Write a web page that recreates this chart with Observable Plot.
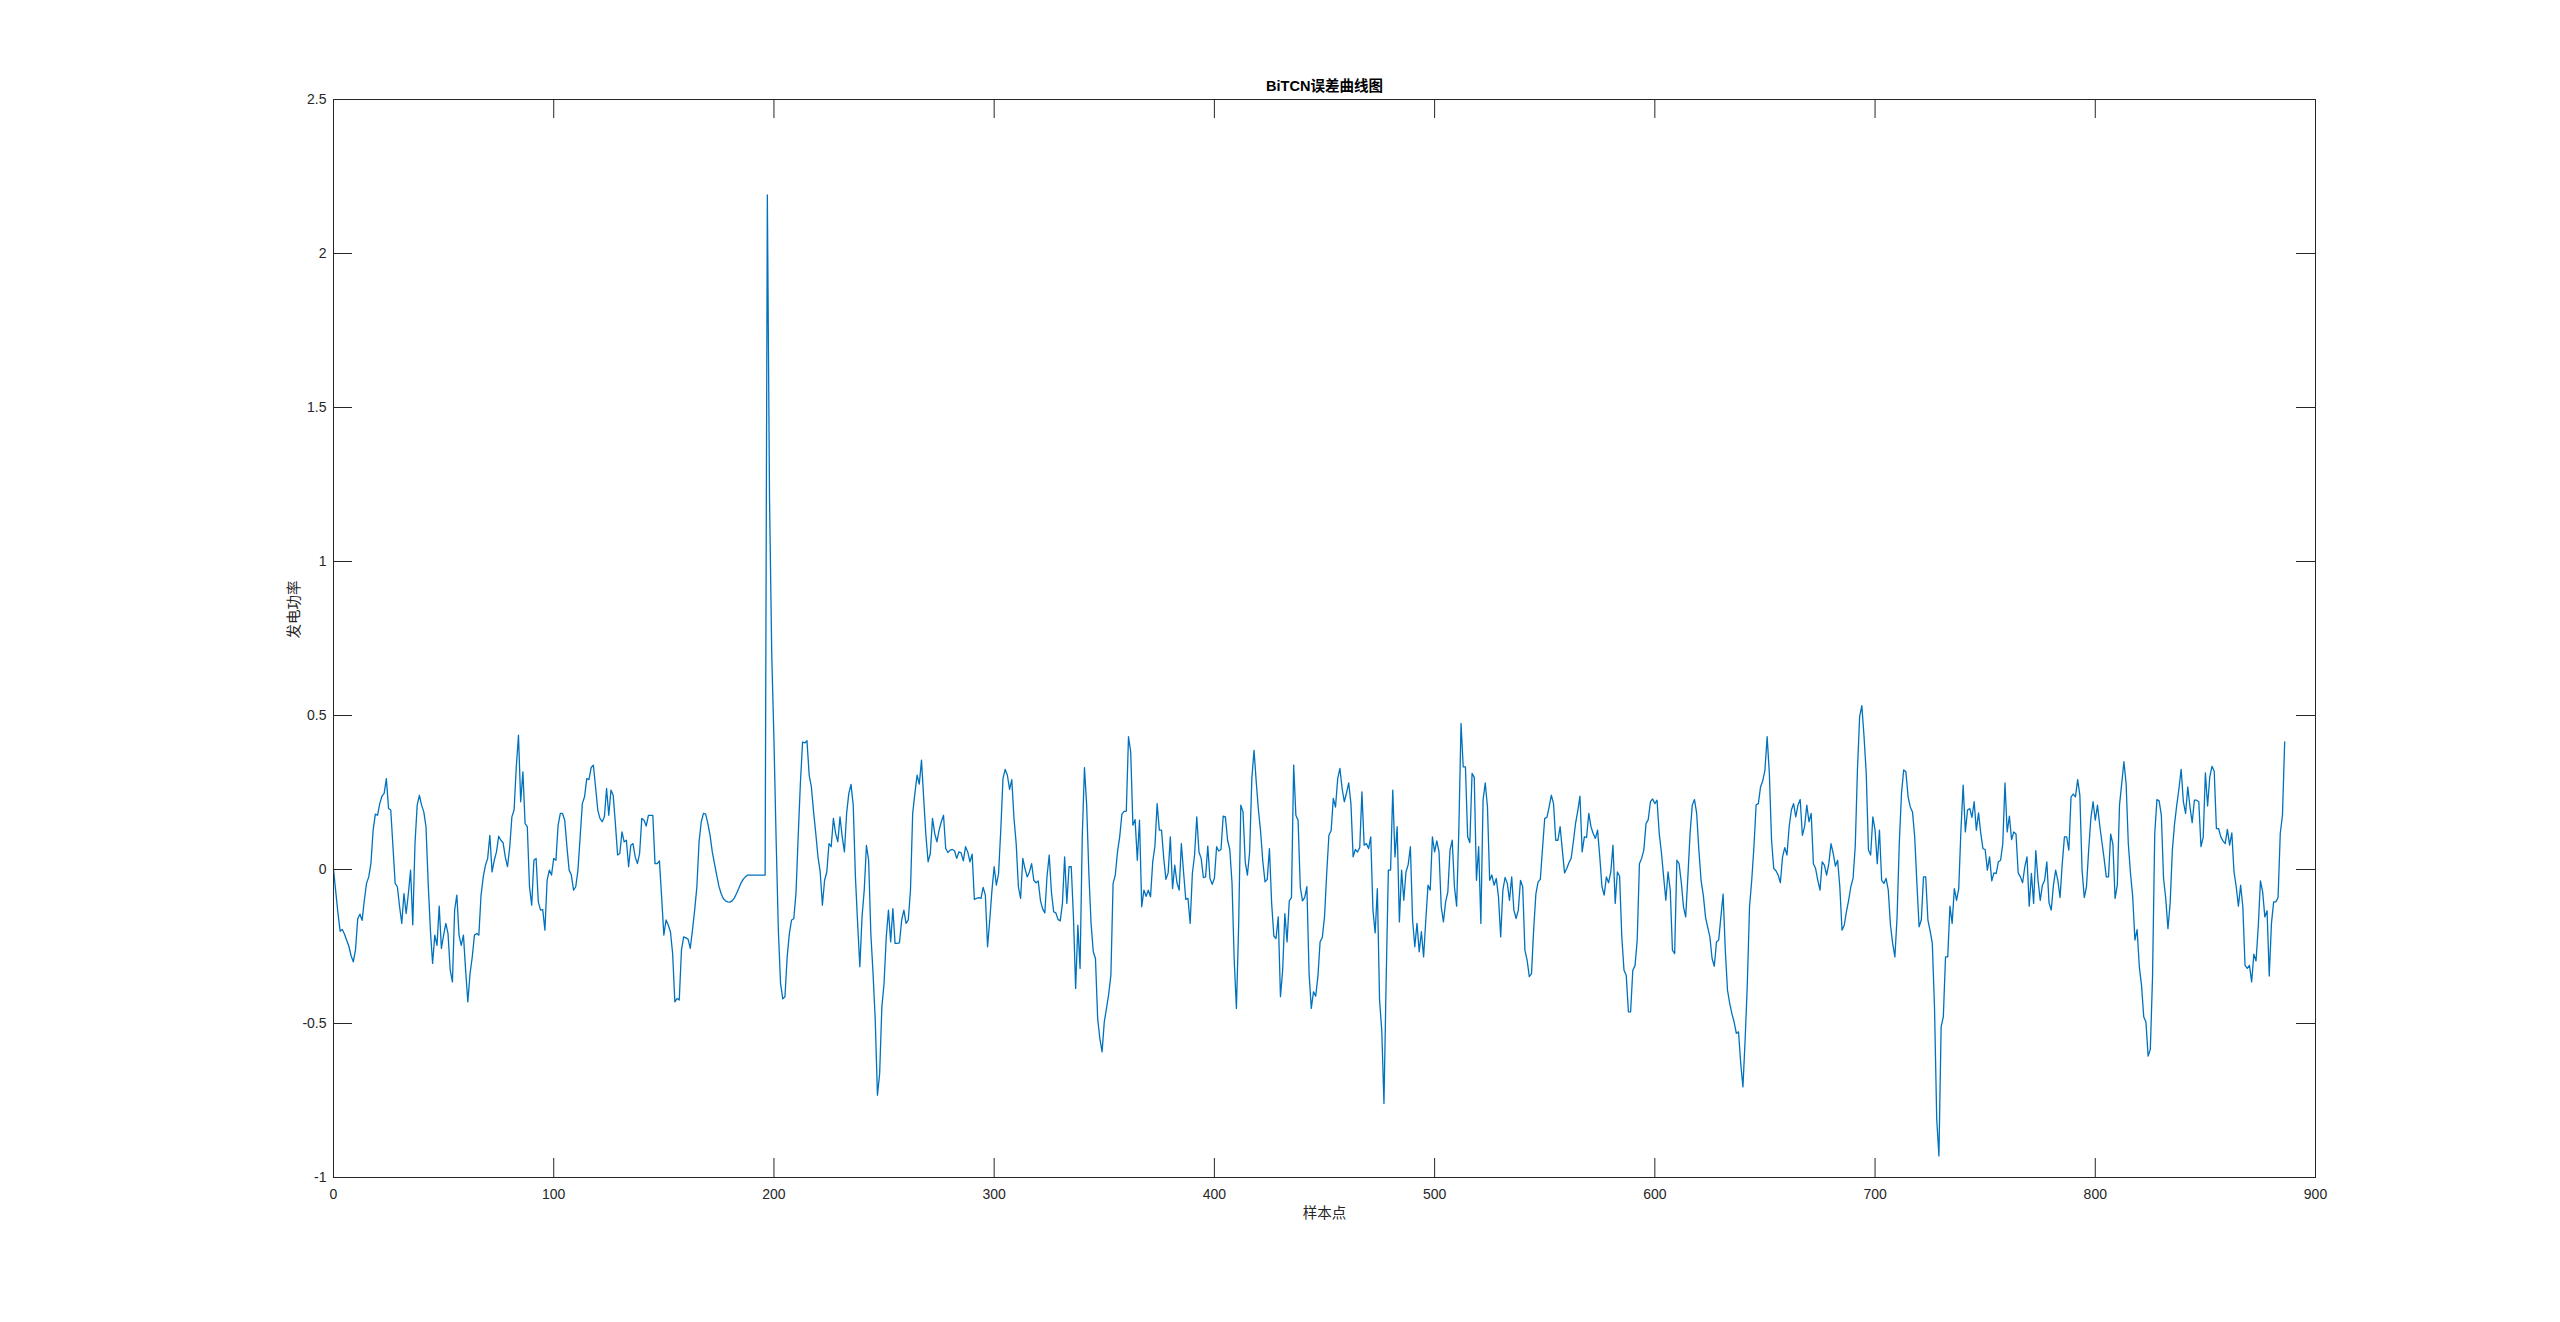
<!DOCTYPE html>
<html>
<head>
<meta charset="utf-8">
<script src="https://cdn.jsdelivr.net/npm/d3@7"></script>
<script src="https://cdn.jsdelivr.net/npm/@observablehq/plot@0.6"></script>
<style>
html, body { margin: 0; padding: 0; background: #ffffff; }
#chart svg { display: block; }
</style>
</head>
<body>
<div id="chart"></div>
<script>
// ---- data ----
const titleText = "BiTCN误差曲线图";
const xLabel = "样本点";
const yLabel = "发电功率";
const xTicks = [0, 100, 200, 300, 400, 500, 600, 700, 800, 900];
const yTicks = [-1, -0.5, 0, 0.5, 1, 1.5, 2, 2.5];
const errorValues = [
  0.0,-0.07,-0.14,-0.20,-0.195,-0.21,-0.23,-0.25,-0.28,-0.30,
  -0.26,-0.16,-0.145,-0.165,-0.10,-0.045,-0.024,0.02,0.128,0.18,
  0.176,0.214,0.238,0.247,0.295,0.198,0.193,0.074,-0.045,-0.056,
  -0.12,-0.175,-0.078,-0.143,-0.078,-0.002,-0.18,0.084,0.209,0.241,
  0.209,0.187,0.139,-0.045,-0.197,-0.305,-0.213,-0.246,-0.119,-0.256,
  -0.213,-0.175,-0.208,-0.327,-0.365,-0.132,-0.083,-0.213,-0.246,-0.213,
  -0.327,-0.43,-0.338,-0.284,-0.213,-0.208,-0.213,-0.083,-0.024,0.014,
  0.036,0.111,-0.008,0.03,0.057,0.108,0.095,0.087,0.041,0.009,
  0.07,0.171,0.193,0.333,0.436,0.22,0.317,0.149,0.139,-0.056,
  -0.116,0.03,0.036,-0.105,-0.132,-0.13,-0.197,-0.035,-0.002,-0.018,
  0.036,0.03,0.144,0.182,0.182,0.16,0.074,-0.002,-0.018,-0.067,
  -0.056,-0.002,0.106,0.214,0.236,0.295,0.292,0.331,0.339,0.268,
  0.193,0.166,0.155,0.171,0.263,0.176,0.258,0.241,0.149,0.047,
  0.052,0.122,0.09,0.095,0.009,0.079,0.084,0.041,0.019,0.052,
  0.166,0.16,0.141,0.176,0.176,0.176,0.019,0.019,0.028,-0.089,
  -0.213,-0.164,-0.18,-0.202,-0.273,-0.43,-0.419,-0.424,-0.262,-0.219,
  -0.222,-0.226,-0.256,-0.197,-0.132,-0.056,0.09,0.155,0.182,0.18,
  0.149,0.111,0.057,0.019,-0.018,-0.054,-0.078,-0.094,-0.102,-0.105,
  -0.106,-0.102,-0.093,-0.078,-0.062,-0.045,-0.032,-0.024,-0.018,-0.018,
  -0.018,-0.018,-0.018,-0.018,-0.018,-0.018,-0.018,2.19,1.2,0.7,
  0.42,0.095,-0.197,-0.37,-0.42,-0.413,-0.284,-0.208,-0.164,-0.16,
  -0.078,0.106,0.279,0.414,0.411,0.418,0.306,0.268,0.187,0.117,
  0.041,-0.008,-0.116,-0.035,-0.008,0.084,0.074,0.166,0.117,0.09,
  0.171,0.106,0.057,0.182,0.247,0.276,0.209,-0.024,-0.175,-0.316,
  -0.154,-0.067,0.078,0.03,-0.208,-0.338,-0.489,-0.733,-0.662,-0.446,
  -0.37,-0.219,-0.132,-0.235,-0.127,-0.24,-0.24,-0.238,-0.164,-0.132,
  -0.175,-0.164,-0.067,0.182,0.247,0.306,0.277,0.355,0.231,0.111,
  0.025,0.052,0.166,0.117,0.09,0.128,0.155,0.176,0.068,0.055,
  0.063,0.065,0.061,0.036,0.057,0.054,0.028,0.074,0.057,0.025,
  0.05,-0.097,-0.094,-0.091,-0.094,-0.058,-0.083,-0.251,-0.164,-0.067,
  0.009,-0.051,-0.013,0.128,0.295,0.325,0.306,0.26,0.292,0.166,
  0.084,-0.056,-0.094,0.036,0.003,-0.024,-0.008,0.019,-0.035,-0.043,
  -0.037,-0.1,-0.128,-0.141,-0.022,0.047,-0.073,-0.137,-0.141,-0.162,
  -0.167,-0.11,0.041,-0.11,0.009,0.009,-0.154,-0.386,-0.181,-0.321,
  0.106,0.331,0.209,-0.013,-0.175,-0.267,-0.289,-0.484,-0.549,-0.592,
  -0.495,-0.451,-0.405,-0.343,-0.045,-0.018,0.057,0.106,0.18,0.189,
  0.189,0.431,0.382,0.144,0.162,0.03,0.16,-0.121,-0.067,-0.087,
  -0.067,-0.089,0.025,0.076,0.214,0.128,0.128,0.036,-0.032,-0.011,
  0.106,-0.062,0.014,-0.043,-0.067,0.084,-0.008,-0.097,-0.094,-0.175,
  -0.013,0.047,0.171,0.057,0.036,-0.026,-0.024,0.076,-0.029,-0.048,
  -0.029,0.074,0.06,0.065,0.173,0.171,0.095,0.065,-0.043,-0.294,
  -0.451,-0.186,0.209,0.187,0.025,-0.018,0.057,0.295,0.387,0.285,
  0.193,0.122,0.025,-0.04,-0.032,0.068,-0.11,-0.216,-0.224,-0.154,
  -0.413,-0.327,-0.143,-0.235,-0.102,-0.091,0.339,0.176,0.16,-0.056,
  -0.102,-0.091,-0.056,-0.338,-0.451,-0.397,-0.411,-0.348,-0.235,-0.221,
  -0.154,-0.013,0.111,0.126,0.231,0.203,0.295,0.328,0.263,0.22,
  0.249,0.281,0.214,0.041,0.065,0.057,0.071,0.252,0.079,0.084,
  0.068,0.106,-0.132,-0.206,-0.062,-0.424,-0.522,-0.76,-0.359,-0.002,
  -0.002,0.258,0.041,0.139,-0.17,-0.002,-0.1,-0.008,0.016,0.074,
  -0.164,-0.251,-0.175,-0.267,-0.202,-0.284,-0.164,-0.051,-0.067,0.106,
  0.057,0.093,0.057,-0.121,-0.17,-0.105,-0.073,0.063,0.095,-0.056,
  -0.119,0.128,0.474,0.333,0.333,0.106,0.087,0.312,0.299,-0.035,
  0.074,-0.175,0.225,0.281,0.203,-0.035,-0.018,-0.051,-0.029,-0.089,
  -0.219,-0.067,-0.026,-0.045,-0.1,-0.024,-0.132,-0.159,-0.132,-0.035,
  -0.056,-0.262,-0.294,-0.348,-0.338,-0.192,-0.078,-0.04,-0.032,0.068,
  0.166,0.169,0.203,0.241,0.214,0.095,0.095,0.139,0.063,-0.011,
  0.003,0.022,0.036,0.09,0.15,0.19,0.238,0.057,0.106,0.104,
  0.182,0.139,0.117,0.101,0.128,0.041,-0.056,-0.083,-0.024,-0.043,
  -0.008,0.079,-0.11,-0.008,-0.022,-0.219,-0.327,-0.343,-0.462,-0.462,
  -0.327,-0.312,-0.229,0.019,0.036,0.063,0.149,0.162,0.22,0.229,
  0.214,0.225,0.117,0.054,-0.024,-0.1,-0.008,-0.067,-0.262,-0.273,
  0.03,0.019,-0.04,-0.121,-0.154,-0.024,0.117,0.209,0.227,0.182,
  0.063,-0.035,-0.083,-0.154,-0.188,-0.219,-0.289,-0.314,-0.235,-0.229,
  -0.154,-0.08,-0.262,-0.392,-0.435,-0.468,-0.495,-0.532,-0.527,-0.63,
  -0.706,-0.554,-0.37,-0.121,-0.035,0.074,0.21,0.214,0.268,0.288,
  0.323,0.431,0.312,0.095,0.003,-0.004,-0.018,-0.043,0.041,0.071,
  0.047,0.139,0.193,0.214,0.171,0.209,0.227,0.111,0.139,0.209,
  0.155,0.182,0.019,0.003,-0.035,-0.067,0.025,0.014,-0.018,0.019,
  0.084,0.052,0.011,0.03,-0.056,-0.197,-0.181,-0.137,-0.1,-0.056,
  -0.029,0.074,0.323,0.496,0.532,0.431,0.312,0.063,0.047,0.171,
  0.128,0.019,0.128,-0.035,-0.045,-0.029,-0.067,-0.181,-0.24,-0.284,
  -0.154,0.084,0.247,0.323,0.317,0.236,0.203,0.187,0.106,-0.045,
  -0.186,-0.164,-0.024,-0.024,-0.164,-0.199,-0.24,-0.45,-0.81,-0.93,
  -0.511,-0.478,-0.284,-0.284,-0.119,-0.175,-0.062,-0.1,-0.062,0.128,
  0.274,0.122,0.193,0.198,0.169,0.22,0.128,0.184,0.117,0.068,
  0.065,-0.002,0.041,-0.037,-0.011,-0.013,0.025,0.03,0.084,0.281,
  0.122,0.173,0.097,0.122,0.115,-0.011,-0.024,-0.043,0.009,0.041,
  -0.119,-0.013,-0.11,0.061,-0.035,-0.1,-0.051,-0.035,0.025,-0.108,
  -0.132,-0.051,-0.002,-0.035,-0.091,0.019,0.106,0.106,0.063,0.236,
  0.245,0.236,0.292,0.241,-0.002,-0.091,-0.056,0.063,0.166,0.22,
  0.16,0.209,0.144,0.09,0.036,-0.024,-0.024,0.115,0.082,-0.094,
  -0.051,0.209,0.279,0.35,0.279,0.084,-0.013,-0.089,-0.229,-0.195,
  -0.316,-0.376,-0.478,-0.495,-0.606,-0.584,-0.348,0.117,0.227,0.223,
  0.176,-0.029,-0.094,-0.192,-0.11,0.063,0.149,0.209,0.263,0.325,
  0.22,0.182,0.268,0.203,0.152,0.225,0.225,0.22,0.074,0.104,
  0.314,0.206,0.301,0.335,0.32,0.133,0.133,0.106,0.093,0.084,
  0.13,0.079,0.119,-0.008,-0.056,-0.119,-0.051,-0.121,-0.311,-0.321,
  -0.311,-0.365,-0.275,-0.297,-0.186,-0.037,-0.073,-0.154,-0.134,-0.346,
  -0.175,-0.105,-0.105,-0.091,0.117,0.176,0.414
];

// ---- layout / style ----
const W = 2560, H = 1322;
const mL = 333, mR = 245, mT = 99, mB = 145;
const plotW = W - mL - mR, plotH = H - mT - mB;
const tickLen = 19;
const axisColor = "#262626";
const lineColor = "#0072BD";
const latinFont = "'Liberation Sans', Arial, Helvetica, 'Noto Sans CJK SC', sans-serif";
const cjkFont = "'Noto Sans CJK SC', 'Liberation Sans', sans-serif";

const chart = Plot.plot({
  width: W,
  height: H,
  marginLeft: mL,
  marginRight: mR,
  marginTop: mT,
  marginBottom: mB,
  style: { background: "#ffffff", fontFamily: latinFont },
  x: { domain: [0, 900] },
  y: { domain: [-1, 2.5] },
  marks: [
    Plot.lineY(errorValues, { x: (d, i) => i, y: (d) => d, stroke: lineColor, strokeWidth: 1.3 }),
    // inward tick marks on all four sides (MATLAB box style)
    Plot.tickX(xTicks, { x: (d) => d, stroke: axisColor, insetTop: plotH - tickLen }),
    Plot.tickX(xTicks, { x: (d) => d, stroke: axisColor, insetBottom: plotH - tickLen }),
    Plot.tickY(yTicks, { y: (d) => d, stroke: axisColor, insetLeft: plotW - tickLen }),
    Plot.tickY(yTicks, { y: (d) => d, stroke: axisColor, insetRight: plotW - tickLen }),
    Plot.frame({ stroke: axisColor, strokeWidth: 1 }),
    Plot.axisX(xTicks, { anchor: "bottom", tickSize: 0, tickPadding: 12, fontSize: 14, fill: axisColor, label: null, tickFormat: (d) => String(d) }),
    Plot.axisY(yTicks, { anchor: "left", tickSize: 0, tickPadding: 7, fontSize: 14, fill: axisColor, label: null, tickFormat: (d) => String(d) }),
    Plot.text([xLabel], { frameAnchor: "bottom", dy: 40, fontSize: 14.5, fill: axisColor, fontFamily: cjkFont, text: (d) => d }),
    Plot.text([yLabel], { frameAnchor: "left", dx: -39, rotate: -90, fontSize: 14.5, fill: axisColor, fontFamily: cjkFont, text: (d) => d }),
    Plot.text([titleText], { frameAnchor: "top", dy: -19, fontSize: 14.5, fontWeight: "bold", fill: "#000000", fontFamily: latinFont, text: (d) => d })
  ]
});

document.getElementById("chart").appendChild(chart);
</script>
</body>
</html>
